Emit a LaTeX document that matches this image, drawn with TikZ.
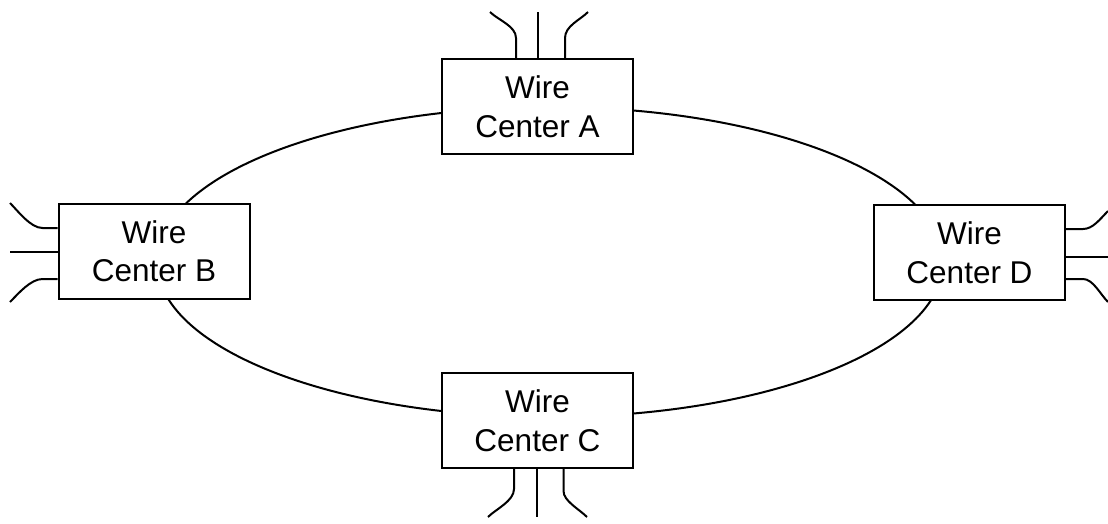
\documentclass[tikz,border=0pt]{standalone}
\usepackage{fontspec}
\setmainfont{Liberation Sans}
\begin{document}
\begin{tikzpicture}[x=1pt,y=-1pt,
  wc/.style={draw, line width=2pt, fill=white, minimum width=191pt, minimum height=95pt,
    inner sep=0pt, align=center, font=\fontsize{31.5}{38.5}\selectfont},
  wire/.style={line width=2pt}]
\useasboundingbox (0,0) rectangle (1108,523);
\draw[wire] (550,262) ellipse [x radius=393, y radius=155];
\node[wc] (A) at (537.5,106.5) {Wire\\Center A};
\node[wc] (B) at (154,251) {Wire\\Center B};
\node[wc] (C) at (537.5,420.5) {Wire\\Center C};
\node[wc] (D) at (969.5,252.5) {Wire\\Center D};
% stub ends
\coordinate (a1) at (490,12);
\coordinate (a2) at (538,12);
\coordinate (a3) at (588,12);
\coordinate (c1) at (488,517);
\coordinate (c2) at (537,517);
\coordinate (c3) at (587,517);
\coordinate (b1) at (10,203);
\coordinate (b2) at (10,252);
\coordinate (b3) at (10,302);
\coordinate (d1) at (1108,211);
\coordinate (d2) at (1108,257);
\coordinate (d3) at (1108,302);
% A stubs
\draw[wire] ([xshift=-21.5pt]A.north) -- ++(0,-20) .. controls +(0,-12) and +(8,8) .. (a1);
\draw[wire] ([xshift=0.5pt]A.north) -- (a2);
\draw[wire] ([xshift=27.5pt]A.north) -- ++(0,-20) .. controls +(0,-12) and +(-8,8) .. (a3);
% C stubs
\draw[wire] ([xshift=-23.5pt]C.south) -- ++(0,20) .. controls +(0,12) and +(8,-8) .. (c1);
\draw[wire] ([xshift=-0.5pt]C.south) -- (c2);
\draw[wire] ([xshift=26pt]C.south) -- ++(0,22) .. controls +(0,10) and +(-8,-8) .. (c3);
% B stubs
\draw[wire] ([yshift=23pt]B.west) -- ++(-15,0) .. controls +(-12,0) and +(8,8) .. (b1);
\draw[wire] ([yshift=-1pt]B.west) -- (b2);
\draw[wire] ([yshift=-28pt]B.west) -- ++(-15,0) .. controls +(-12,0) and +(8,-8) .. (b3);
% D stubs
\draw[wire] ([yshift=23.5pt]D.east) -- ++(17,0) .. controls +(10,0) and +(-8,8) .. (d1);
\draw[wire] ([yshift=-4.5pt]D.east) -- (d2);
\draw[wire] ([yshift=-26.5pt]D.east) -- ++(17,0) .. controls +(10,0) and +(-8,-8) .. (d3);
\end{tikzpicture}
\end{document}
